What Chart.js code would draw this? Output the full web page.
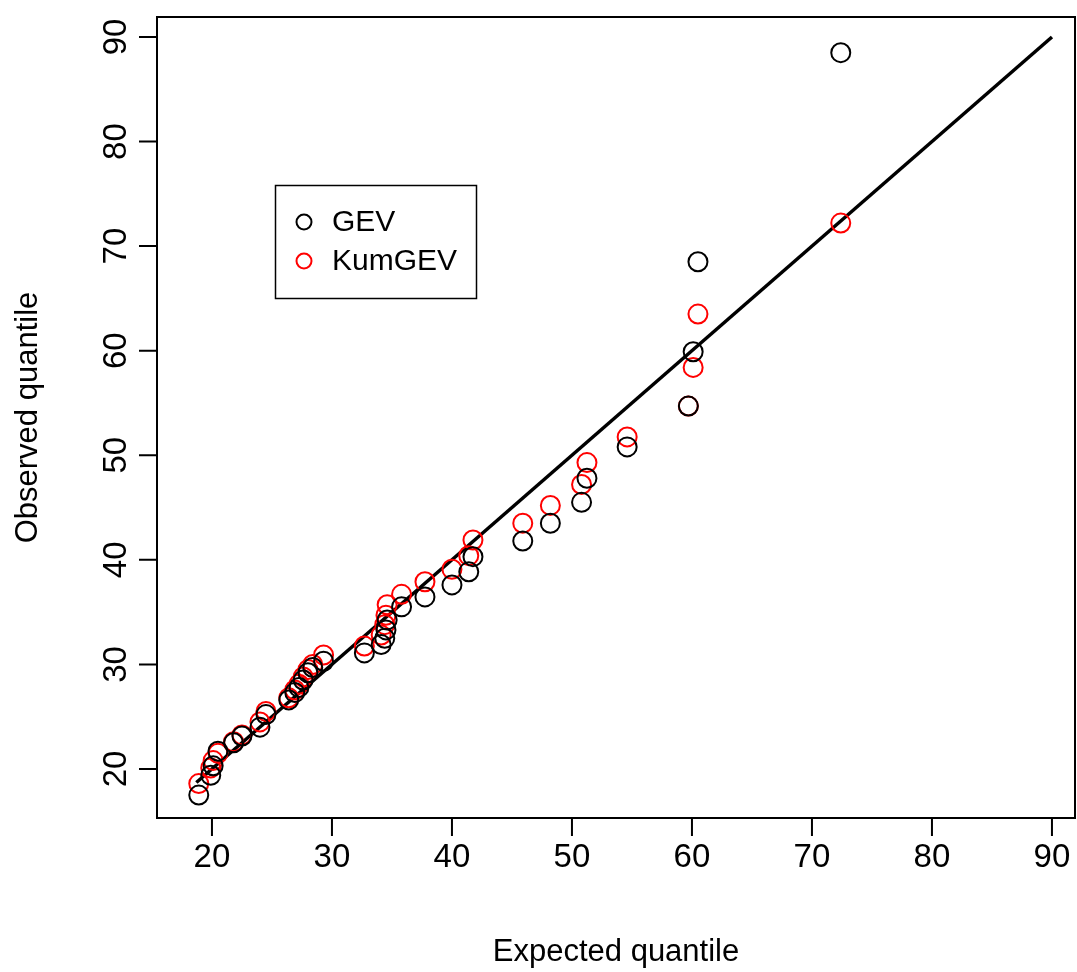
<!DOCTYPE html>
<html>
<head>
<meta charset="utf-8">
<script src="https://cdn.jsdelivr.net/npm/chart.js@4"></script>
<style>
  html, body { margin: 0; padding: 0; background: #fff; overflow: hidden; }
  #wrap { width: 1077px; height: 972px; }
  canvas { display: block; }
</style>
</head>
<body>
<div id="wrap"><canvas id="qq" width="1077" height="972"></canvas></div>
<script>
// expected quantiles, shared by both fits
const expected = [18.9, 19.9, 20.1, 20.5, 21.8, 22.5, 24.0, 24.5, 26.4, 26.9, 27.25, 27.6,
  28.0, 28.4, 29.3, 32.7, 34.1, 34.4, 34.5, 34.6, 35.8, 37.75, 40.0, 41.4, 41.75, 45.9,
  48.2, 50.8, 51.25, 54.6, 59.7, 60.1, 60.5, 72.4];
const gevObs = [17.5, 19.4, 20.3, 21.7, 22.5, 23.15, 24.0, 25.2, 26.6, 27.3, 27.8, 28.5,
  29.2, 29.7, 30.3, 31.1, 31.9, 32.5, 33.3, 34.25, 35.5, 36.45, 37.6, 38.85, 40.3, 41.8,
  43.5, 45.5, 47.8, 50.8, 54.7, 59.9, 68.5, 88.5];
const kumObs = [18.6, 20.1, 20.8, 21.5, 22.6, 23.25, 24.5, 25.5, 26.8, 27.55, 28.1, 28.8,
  29.5, 30.0, 30.9, 31.75, 32.8, 33.8, 34.7, 35.7, 36.7, 37.9, 39.1, 40.4, 41.9, 43.5,
  45.2, 47.2, 49.3, 51.75, 54.7, 58.4, 63.5, 72.2];
const refLine = [18.7, 90];
const xTicks = [20, 30, 40, 50, 60, 70, 80, 90];
const yTicks = [20, 30, 40, 50, 60, 70, 80, 90];

const font = "Liberation Sans, Arial, Helvetica, sans-serif";

const toPts = (xs, ys) => xs.map((x, i) => ({x: x, y: ys[i]}));

// base-graphics look: box, outward ticks, rotated y labels, boxed legend
const rAxes = {
  id: "rAxes",
  afterDraw(chart) {
    const {ctx, chartArea: a, scales: {x, y}} = chart;
    ctx.save();
    ctx.strokeStyle = "#000";
    ctx.fillStyle = "#000";
    ctx.lineWidth = 2;
    ctx.strokeRect(a.left, a.top, a.right - a.left, a.bottom - a.top);

    // x axis
    const tl = 18;
    ctx.beginPath();
    ctx.moveTo(x.getPixelForValue(xTicks[0]), a.bottom);
    ctx.lineTo(x.getPixelForValue(xTicks[xTicks.length - 1]), a.bottom);
    xTicks.forEach(v => {
      const px = x.getPixelForValue(v);
      ctx.moveTo(px, a.bottom);
      ctx.lineTo(px, a.bottom + tl);
    });
    ctx.stroke();
    ctx.font = "33px " + font;
    ctx.textAlign = "center";
    ctx.textBaseline = "middle";
    xTicks.forEach(v => ctx.fillText(String(v), x.getPixelForValue(v), 858));

    // y axis
    ctx.beginPath();
    ctx.moveTo(a.left, y.getPixelForValue(yTicks[0]));
    ctx.lineTo(a.left, y.getPixelForValue(yTicks[yTicks.length - 1]));
    yTicks.forEach(v => {
      const py = y.getPixelForValue(v);
      ctx.moveTo(a.left, py);
      ctx.lineTo(a.left - tl, py);
    });
    ctx.stroke();
    yTicks.forEach(v => {
      ctx.save();
      ctx.translate(117, y.getPixelForValue(v));
      ctx.rotate(-Math.PI / 2);
      ctx.fillText(String(v), 0, 0);
      ctx.restore();
    });

    // axis titles
    ctx.font = "31px " + font;
    ctx.fillText("Expected quantile", (a.left + a.right) / 2, 952);
    ctx.save();
    ctx.translate(28, (a.top + a.bottom) / 2);
    ctx.rotate(-Math.PI / 2);
    ctx.fillText("Observed quantile", 0, 0);
    ctx.restore();

    // legend
    ctx.lineWidth = 1.5;
    ctx.strokeRect(275.5, 185.5, 201, 113);
    ctx.textAlign = "left";
    ctx.font = "30px " + font;
    chart.data.datasets.slice(0, 2).forEach((ds, i) => {
      const cy = 222 + i * 39;
      ctx.beginPath();
      ctx.lineWidth = 2;
      ctx.strokeStyle = ds.borderColor;
      ctx.arc(304, cy, 7.5, 0, Math.PI * 2);
      ctx.stroke();
      ctx.fillStyle = "#000";
      ctx.fillText(ds.label, 332, cy + 1);
    });
    ctx.restore();
  }
};

new Chart(document.getElementById("qq"), {
  type: "scatter",
  data: {
    datasets: [
      {
        label: "GEV",
        data: toPts(expected, gevObs),
        borderColor: "#000000",
        backgroundColor: "rgba(0,0,0,0)",
        pointRadius: 9.5,
        borderWidth: 2
      },
      {
        label: "KumGEV",
        data: toPts(expected, kumObs),
        borderColor: "#ff0000",
        backgroundColor: "rgba(0,0,0,0)",
        pointRadius: 9.5,
        borderWidth: 2
      },
      {
        type: "line",
        label: "y = x",
        data: toPts(refLine, refLine),
        borderColor: "#000000",
        borderWidth: 3.5,
        pointRadius: 0,
        fill: false
      }
    ]
  },
  options: {
    responsive: false,
    animation: false,
    layout: {autoPadding: false, padding: {left: 157, top: 17, right: 2, bottom: 154}},
    plugins: {legend: {display: false}, tooltip: {enabled: false}},
    scales: {
      x: {type: "linear", min: 15.42, max: 91.92, display: false},
      y: {type: "linear", min: 15.31, max: 91.91, display: false}
    }
  },
  plugins: [rAxes]
});
</script>
</body>
</html>
